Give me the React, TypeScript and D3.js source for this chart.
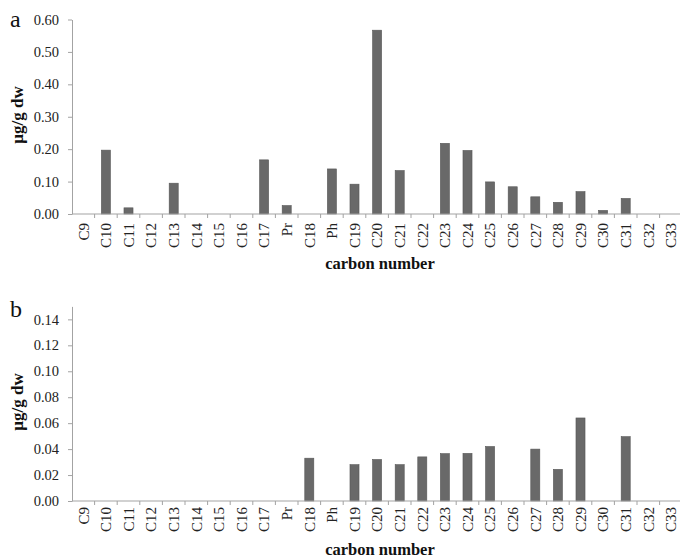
import React, { useEffect, useRef } from 'react';
import * as d3 from 'd3';

// carbon number categories (shared by both panels)
const categories = [
  'C9', 'C10', 'C11', 'C12', 'C13', 'C14', 'C15', 'C16', 'C17', 'Pr', 'C18', 'Ph', 'C19',
  'C20', 'C21', 'C22', 'C23', 'C24', 'C25', 'C26', 'C27', 'C28', 'C29', 'C30', 'C31', 'C32', 'C33',
];

// panel a values (µg/g dw)
const valuesA = [
  0, 0.197, 0.019, 0, 0.095, 0, 0, 0, 0.167, 0.026, 0, 0.139, 0.092,
  0.567, 0.134, 0, 0.218, 0.196, 0.099, 0.084, 0.053, 0.036, 0.069, 0.011, 0.048, 0, 0,
];

// panel b values (µg/g dw)
const valuesB = [
  0, 0, 0, 0, 0, 0, 0, 0, 0, 0, 0.033, 0, 0.028,
  0.032, 0.028, 0.034, 0.0365, 0.0367, 0.042, 0, 0.040, 0.0244, 0.064, 0, 0.0496, 0, 0,
];

const ticksA = [0, 0.1, 0.2, 0.3, 0.4, 0.5, 0.6];
const ticksB = [0, 0.02, 0.04, 0.06, 0.08, 0.1, 0.12, 0.14];

const serif = "'Liberation Serif', 'Times New Roman', serif";
const axisColor = '#a3a3a3';

const App = () => {
  const svgRef = useRef(null);

  useEffect(() => {
    document.body.style.margin = '0';
    const svg = d3.select(svgRef.current);
    svg.selectAll('*').remove();

    const left = 72;
    const step = 22.6;

    const x = d3.scaleBand()
      .domain(categories)
      .range([left, left + step * categories.length])
      .paddingInner(0.6)
      .paddingOuter(0.3);

    const drawPanel = (opts) => {
      const { values, ticks, yMax, top, bottom, letter, letterY, labelY, titleY, labelGap } = opts;
      const y = d3.scaleLinear().domain([0, yMax]).range([bottom, top]);
      const g = svg.append('g');

      // 柱子
      g.selectAll('.bar')
        .data(categories.map((c, i) => ({ c, v: values[i] })).filter(d => d.v > 0))
        .enter()
        .append('rect')
        .attr('x', d => x(d.c))
        .attr('y', d => y(d.v))
        .attr('width', x.bandwidth())
        .attr('height', d => y(0) - y(d.v))
        .attr('fill', '#696969')
        .attr('stroke', '#575757')
        .attr('stroke-width', 0.6);

      // y 轴
      const yAxis = g.append('g')
        .attr('transform', `translate(${left}, 0)`)
        .call(d3.axisLeft(y).tickValues(ticks).tickSize(4).tickSizeOuter(0).tickFormat(d3.format('.2f')));
      yAxis.select('.domain').attr('stroke', axisColor);
      yAxis.selectAll('.tick line').attr('stroke', axisColor);
      yAxis.selectAll('text')
        .attr('x', -13)
        .style('font-family', serif)
        .style('font-size', '14.5px')
        .style('fill', '#222');

      // x 轴
      const xAxis = g.append('g')
        .attr('transform', `translate(0, ${bottom})`)
        .call(d3.axisBottom(x).tickSize(0).tickSizeOuter(0));
      xAxis.select('.domain').remove();
      xAxis.selectAll('text')
        .attr('transform', 'rotate(-90)')
        .attr('x', -labelGap)
        .attr('y', 0)
        .attr('dy', '0.35em')
        .attr('text-anchor', 'end')
        .style('font-family', serif)
        .style('font-size', '15px')
        .style('fill', '#222');

      g.append('line')
        .attr('x1', left).attr('x2', 680)
        .attr('y1', bottom).attr('y2', bottom)
        .attr('stroke', axisColor);

      // 分类边界刻度
      const bounds = categories.map(c => x(c) - x.step() * x.paddingInner() / 2);
      g.selectAll('.xtick')
        .data(bounds.slice(1))
        .enter()
        .append('line')
        .attr('x1', d => d).attr('x2', d => d)
        .attr('y1', bottom).attr('y2', bottom + 4)
        .attr('stroke', axisColor);

      // 面板字母
      g.append('text')
        .attr('x', 10)
        .attr('y', letterY)
        .style('font-family', serif)
        .style('font-size', '24px')
        .style('fill', '#111')
        .text(letter);

      // 坐标轴标签
      g.append('text')
        .attr('transform', `translate(23, ${labelY}) rotate(-90)`)
        .attr('text-anchor', 'middle')
        .style('font-family', serif)
        .style('font-size', '17px')
        .style('font-weight', 'bold')
        .style('fill', '#111')
        .text('µg/g dw');

      g.append('text')
        .attr('x', 380)
        .attr('y', titleY)
        .attr('text-anchor', 'middle')
        .style('font-family', serif)
        .style('font-size', '16.5px')
        .style('font-weight', 'bold')
        .style('fill', '#111')
        .text('carbon number');
    };

    drawPanel({ values: valuesA, ticks: ticksA, yMax: 0.6, top: 19.5, bottom: 214, letter: 'a', letterY: 27, labelY: 115, titleY: 269, labelGap: 9 });
    drawPanel({ values: valuesB, ticks: ticksB, yMax: 0.15, top: 306.4, bottom: 501, letter: 'b', letterY: 317, labelY: 402, titleY: 555, labelGap: 6 });
  }, []);

  return <svg ref={svgRef} width={680} height={559} style={{ display: 'block', background: '#fff' }} />;
};

export default App;
